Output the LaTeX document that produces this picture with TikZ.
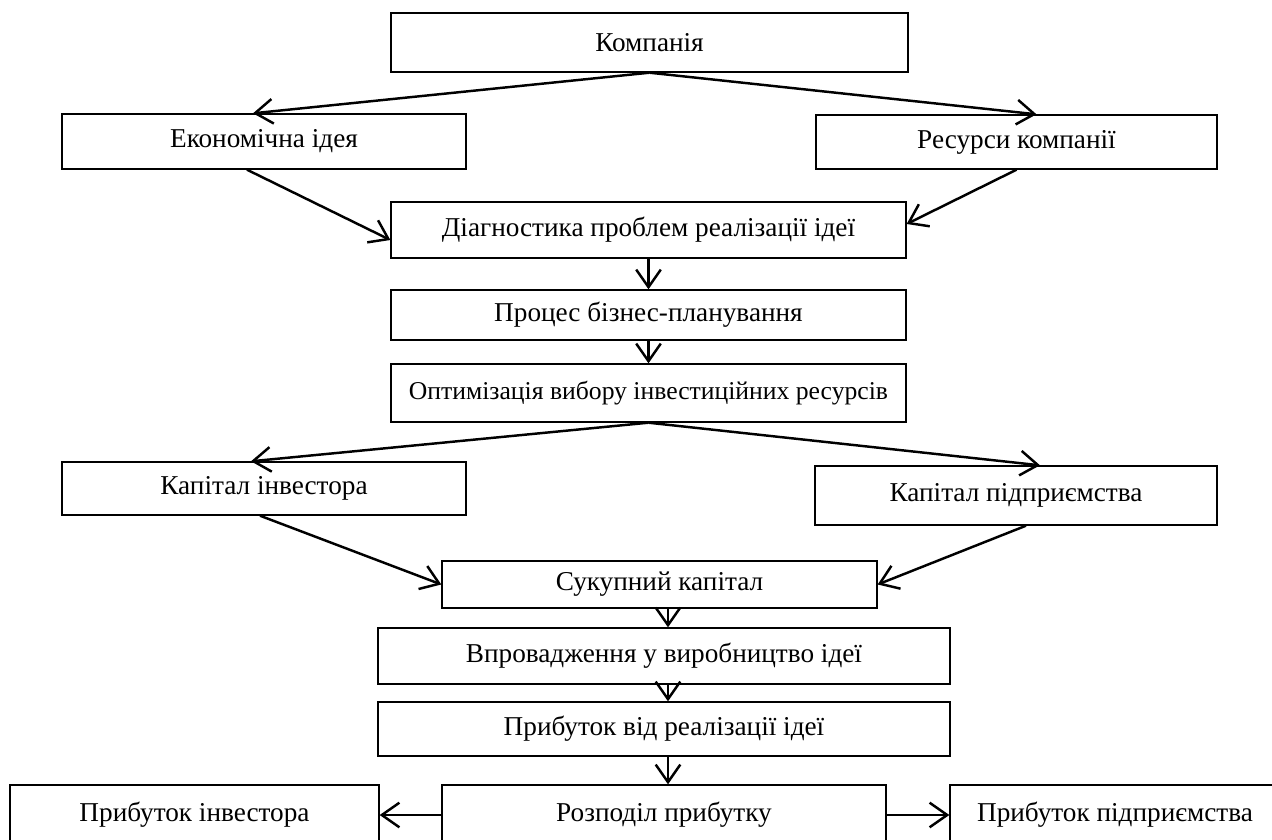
\documentclass[tikz,border=0pt]{standalone}
\usepackage{fontspec}
\setmainfont{Liberation Serif}
\usetikzlibrary{arrows.meta,calc}
\begin{document}
\begin{tikzpicture}[x=0.02cm,y=-0.02cm,
    every node/.style={font=\fontsize{15.5pt}{18pt}\selectfont},
    blk/.style={draw,line width=0.8pt,inner sep=0pt},
    arr/.style={line width=1.4pt,-{Straight Barb[length=10pt,width=14pt,line width=1.4pt]}}]
    \clip (0,0) rectangle (1272,839);
    % TOP : company, idea and resources
    \node[blk,minimum width=10.34cm,minimum height=1.18cm] (komp) at (649.5,42.5) {Компанія};
    \node[blk,minimum width=8.08cm,minimum height=1.10cm] (ideya) at (264,141.5) {Економічна ідея};
    \node[blk,minimum width=8.02cm,minimum height=1.08cm] (resurs) at (1016.5,142) {Ресурси компанії};
    \node[blk,minimum width=10.3cm,minimum height=1.12cm] (diag) at (648.5,230) {Діагностика проблем реалізації ідеї};
    \node[blk,minimum width=10.3cm,minimum height=1.0cm] (proces) at (648.5,315) {Процес бізнес-планування};
    \node[blk,minimum width=10.3cm,minimum height=1.16cm,font=\fontsize{14.6pt}{17pt}\selectfont] (optym) at (648.5,393) {Оптимізація вибору інвестиційних ресурсів};
    % MIDDLE : capital
    \node[blk,minimum width=8.08cm,minimum height=1.06cm] (kapinv) at (264,488.5) {Капітал інвестора};
    \node[blk,minimum width=8.04cm,minimum height=1.18cm] (kappid) at (1016,495.5) {Капітал підприємства};
    \node[blk,minimum width=8.7cm,minimum height=0.94cm] (sukup) at (659.5,584.5) {Сукупний капітал};
    \node[blk,minimum width=11.44cm,minimum height=1.12cm] (vprov) at (664,656) {Впровадження у виробництво ідеї};
    \node[blk,minimum width=11.44cm,minimum height=1.08cm] (prybvid) at (664,729) {Прибуток від реалізації ідеї};
    % BOTTOM : profit
    \node[blk,minimum width=7.38cm,minimum height=1.2cm] (prybinv) at (194.5,815) {Прибуток інвестора};
    \node[blk,minimum width=8.88cm,minimum height=1.2cm] (rozpod) at (664,815) {Розподіл прибутку};
    \node[blk,minimum width=6.6cm,minimum height=1.2cm] (prybpid) at (1115,815) {Прибуток підприємства};
    % arrows
    \draw[arr] (komp.south) -- ($(ideya.north)+(-11,0)$);
    \draw[arr] (komp.south) -- ($(resurs.north)+(20,0)$);
    \draw[arr] ($(ideya.south)+(-17,0)$) -- ($(diag.west)+(0,10)$);
    \draw[arr] (resurs.south) -- ($(diag.east)+(0,-6)$);
    \draw[arr] (diag.south) -- (proces.north);
    \draw[arr] (proces.south) -- (optym.north);
    \draw[arr] (optym.south) -- ($(kapinv.north)+(-13,0)$);
    \draw[arr] (optym.south) -- ($(kappid.north)+(24,0)$);
    \draw[arr] ($(kapinv.south)+(-4,0)$) -- (sukup.west);
    \draw[arr] ($(kappid.south)+(10,0)$) -- (sukup.east);
    \draw[arr] ($(sukup.south -| vprov.north)+(4,0)$) -- ($(vprov.north)+(4,0)$);
    \draw[arr] ($(vprov.south)+(4,0)$) -- ($(prybvid.north)+(4,0)$);
    \draw[arr] ($(prybvid.south)+(4,0)$) -- ($(rozpod.north)+(4,0)$);
    \draw[arr] (rozpod.west) -- (prybinv.east);
    \draw[arr] (rozpod.east) -- (prybpid.west);
\end{tikzpicture}
\end{document}
